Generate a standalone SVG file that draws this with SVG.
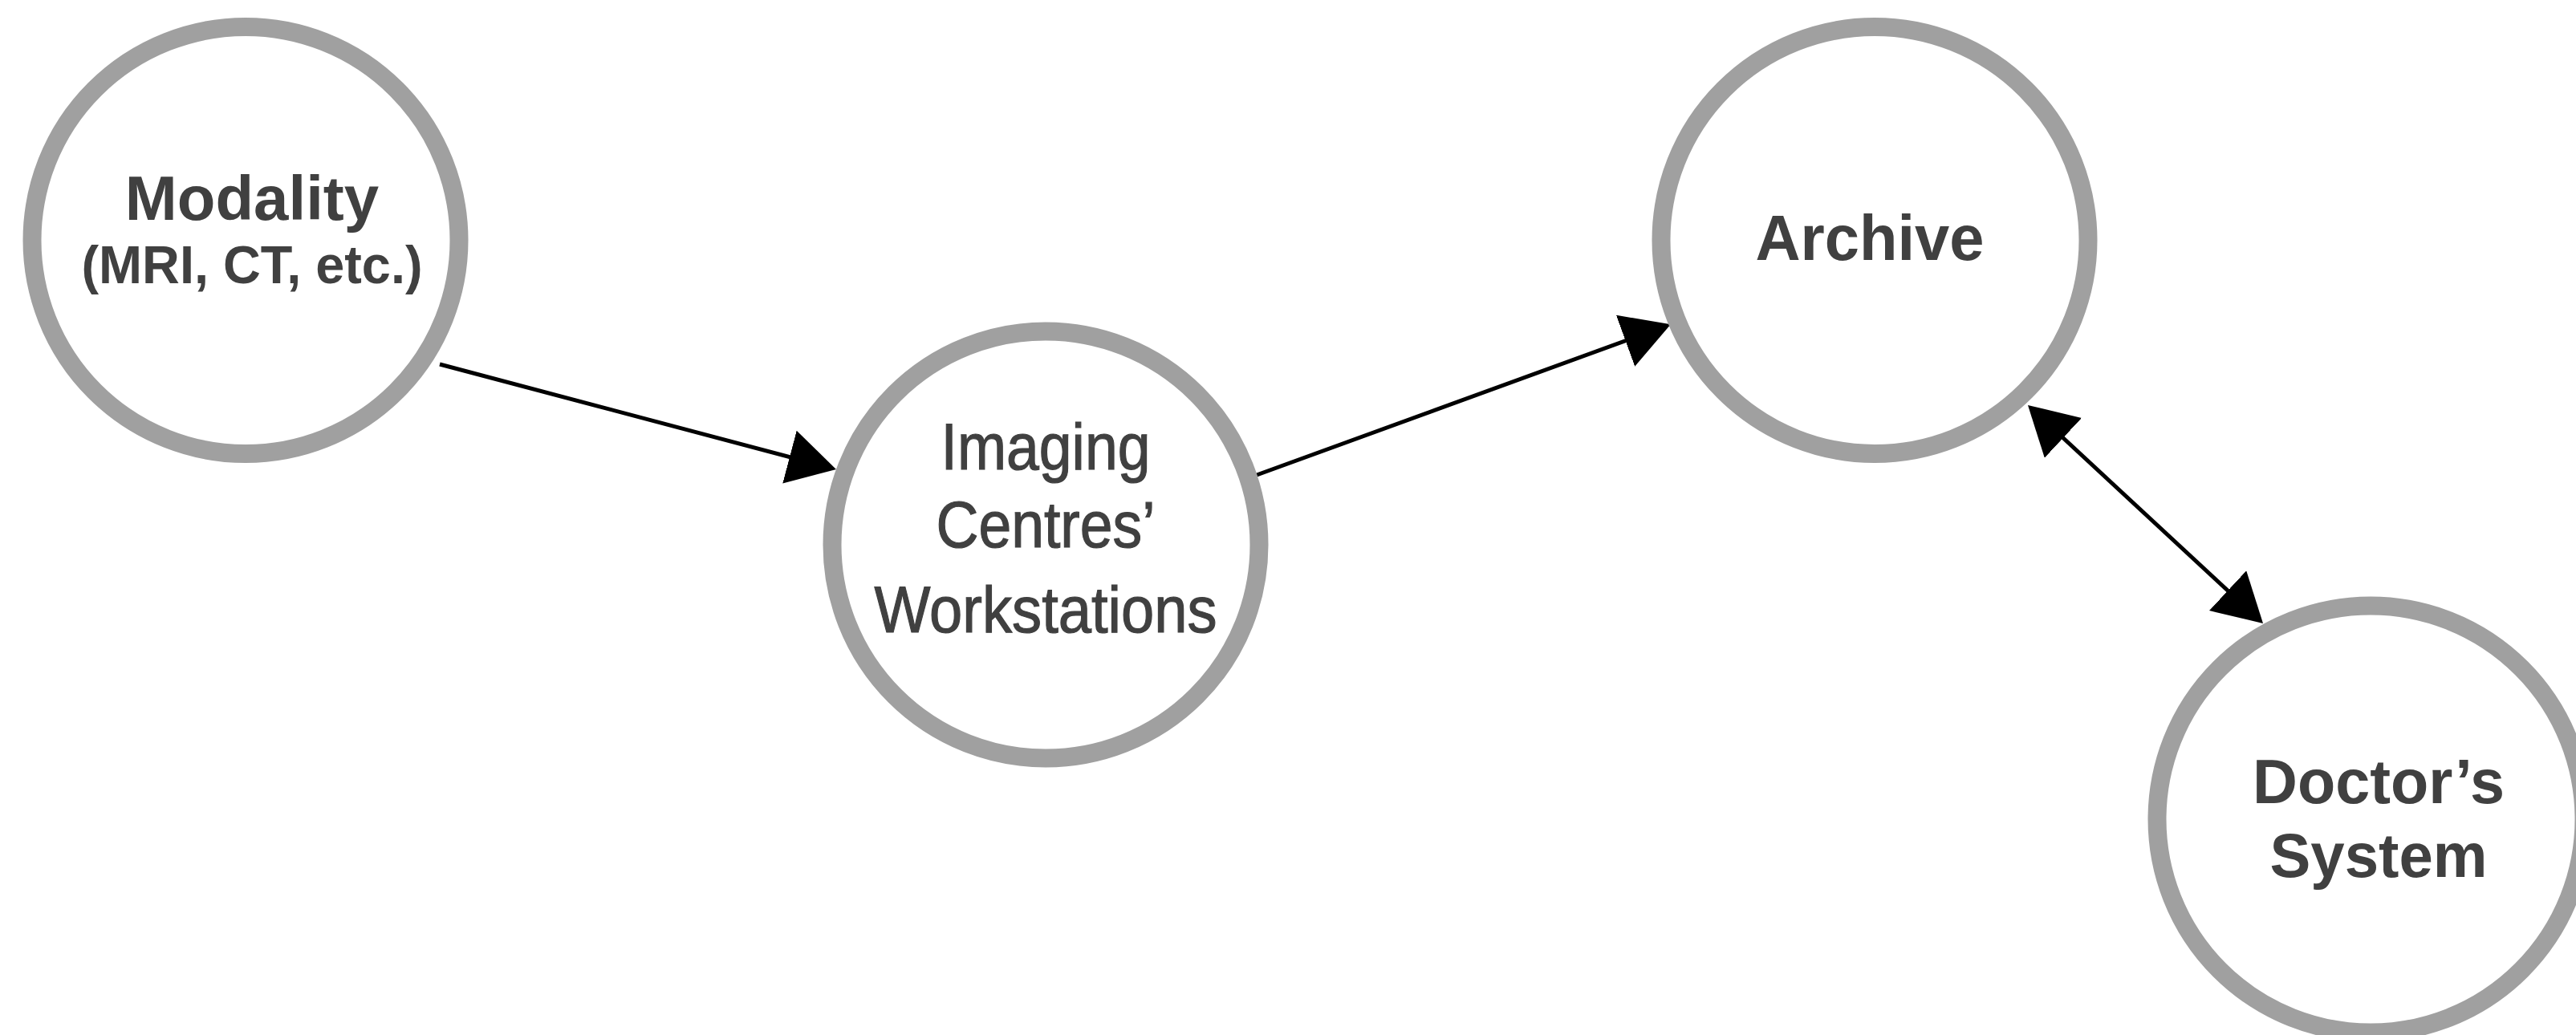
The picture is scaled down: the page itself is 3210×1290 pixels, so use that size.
<svg xmlns="http://www.w3.org/2000/svg" width="3210" height="1290" viewBox="0 0 3210 1290">
  <style>
    .node { fill: #ffffff; stroke: #a0a0a0; stroke-width: 23; }
    .lbl { font-family: "Liberation Sans", Arial, sans-serif; fill: #404040; text-anchor: middle; }
    .b { font-weight: bold; }
    .edge { stroke: #000000; stroke-width: 5; fill: none; }
  </style>
  <defs>
    <marker id="arrow" viewBox="0 0 60 68" refX="50" refY="34" markerWidth="60" markerHeight="68" markerUnits="userSpaceOnUse" orient="auto-start-reverse">
      <path d="M0,0 L60,34 L0,68 z" fill="#000000"/>
    </marker>
  </defs>
  <rect width="3210" height="1290" fill="#ffffff"/>

  <g id="connectors">
    <line class="edge" x1="548" y1="454" x2="1032.3" y2="582.4" marker-end="url(#arrow)"/>
    <line class="edge" x1="1566" y1="592" x2="2072.5" y2="407.6" marker-end="url(#arrow)"/>
    <line class="edge" x1="2534.3" y1="511.8" x2="2812.7" y2="770.2" marker-start="url(#arrow)" marker-end="url(#arrow)"/>
  </g>

  <g id="node-modality">
    <circle class="node" cx="306" cy="299.5" r="266"/>
    <text class="lbl b" x="314" y="274" font-size="78">Modality</text>
    <text class="lbl b" x="314" y="353" font-size="67" textLength="425" lengthAdjust="spacingAndGlyphs">(MRI, CT, etc.)</text>
  </g>

  <g id="node-imaging">
    <circle class="node" cx="1303" cy="679" r="266"/>
    <text class="lbl" x="1303" y="585" font-size="82" stroke="#404040" stroke-width="1.2" textLength="261" lengthAdjust="spacingAndGlyphs">Imaging</text>
    <text class="lbl" x="1303" y="682" font-size="82" stroke="#404040" stroke-width="1.2" textLength="273" lengthAdjust="spacingAndGlyphs">Centres’</text>
    <text class="lbl" x="1303" y="788" font-size="82" stroke="#404040" stroke-width="1.2" textLength="427" lengthAdjust="spacingAndGlyphs">Workstations</text>
  </g>

  <g id="node-archive">
    <circle class="node" cx="2336" cy="299.5" r="266"/>
    <text class="lbl b" x="2330" y="324" font-size="79" textLength="285" lengthAdjust="spacingAndGlyphs">Archive</text>
  </g>

  <g id="node-doctor">
    <circle class="node" cx="2954" cy="1021" r="266"/>
    <text class="lbl b" x="2964" y="1001" font-size="78" textLength="314" lengthAdjust="spacingAndGlyphs">Doctor’s</text>
    <text class="lbl b" x="2964" y="1093" font-size="78" textLength="271" lengthAdjust="spacingAndGlyphs">System</text>
  </g>
</svg>
